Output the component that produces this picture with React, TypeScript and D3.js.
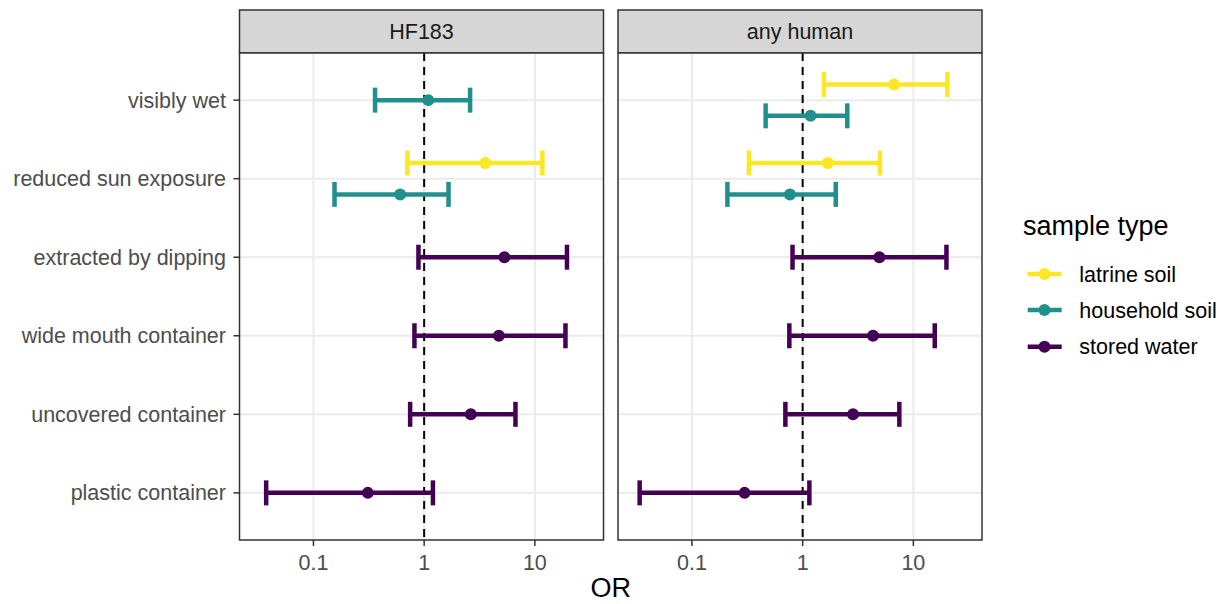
import React from "react";
import * as d3 from "d3";

// risk factors, top to bottom
const factors = [
  "visibly wet",
  "reduced sun exposure",
  "extracted by dipping",
  "wide mouth container",
  "uncovered container",
  "plastic container",
];

const sampleTypes = ["latrine soil", "household soil", "stored water"];
const typeColors = ["#FDE725", "#21908C", "#440154"];

const panels = ["HF183", "any human"];
const xTicks = [0.1, 1, 10];
const xTickLabels = ["0.1", "1", "10"];

// [factor, sample type, OR, lower, upper]
const hf183Estimates: [string, string, number, number, number][] = [
  ["visibly wet", "household soil", 1.09, 0.36, 2.6],
  ["reduced sun exposure", "latrine soil", 3.56, 0.706, 11.7],
  ["reduced sun exposure", "household soil", 0.607, 0.155, 1.66],
  ["extracted by dipping", "stored water", 5.31, 0.888, 19.5],
  ["wide mouth container", "stored water", 4.73, 0.817, 18.9],
  ["uncovered container", "stored water", 2.64, 0.747, 6.68],
  ["plastic container", "stored water", 0.31, 0.0374, 1.2],
];

const anyHumanEstimates: [string, string, number, number, number][] = [
  ["visibly wet", "latrine soil", 6.68, 1.557, 20.3],
  ["visibly wet", "household soil", 1.18, 0.463, 2.53],
  ["reduced sun exposure", "latrine soil", 1.69, 0.327, 4.99],
  ["reduced sun exposure", "household soil", 0.768, 0.209, 1.99],
  ["extracted by dipping", "stored water", 4.93, 0.81, 19.9],
  ["wide mouth container", "stored water", 4.32, 0.758, 15.6],
  ["uncovered container", "stored water", 2.85, 0.698, 7.47],
  ["plastic container", "stored water", 0.299, 0.0337, 1.15],
];

const panelData = [hf183Estimates, anyHumanEstimates];

const W = 1225;
const H = 604;
const panelLeft = 239.5;
const panelW = 364;
const panelGap = 14.5;
const stripTop = 10;
const plotTop = 53;
const plotBottom = 540;
const font = "'Liberation Sans', Arial, Helvetica, sans-serif";
const small = 21.5;
const big = 27;

const color = d3.scaleOrdinal<string, string>().domain(sampleTypes).range(typeColors);

const y = d3
  .scalePoint<string>()
  .domain(factors)
  .range([plotTop, plotBottom])
  .padding(0.6);

const Panel = ({ idx }: { idx: number }) => {
  const x0 = panelLeft + idx * (panelW + panelGap);
  const x = d3
    .scaleLog()
    .domain([Math.pow(10, -1.668), Math.pow(10, 1.62)])
    .range([x0, x0 + panelW]);
  const rows = panelData[idx];
  const step = y.step();
  const capH = 25;

  // dodge groups sharing a factor
  const offset = (r: [string, string, number, number, number]) => {
    const group = rows.filter((d) => d[0] === r[0]);
    const n = group.length;
    const i = group.indexOf(r);
    return (i - (n - 1) / 2) * 0.4 * step;
  };

  return (
    <g>
      {/* strip */}
      <rect
        x={x0}
        y={stripTop}
        width={panelW}
        height={plotTop - stripTop}
        fill="#D6D6D6"
        stroke="#333333"
        strokeWidth={1.5}
      />
      <text
        x={x0 + panelW / 2}
        y={(stripTop + plotTop) / 2}
        dy="0.35em"
        textAnchor="middle"
        fontSize={small}
        fill="#1A1A1A"
      >
        {panels[idx]}
      </text>

      <rect x={x0} y={plotTop} width={panelW} height={plotBottom - plotTop} fill="white" />
      {/* grid */}
      {xTicks.map((t) => (
        <line key={t} x1={x(t)} x2={x(t)} y1={plotTop} y2={plotBottom} stroke="#EBEBEB" strokeWidth={2} />
      ))}
      {factors.map((f) => (
        <line key={f} x1={x0} x2={x0 + panelW} y1={y(f)} y2={y(f)} stroke="#EBEBEB" strokeWidth={2} />
      ))}

      {/* reference line at OR = 1 */}
      <line
        x1={x(1)}
        x2={x(1)}
        y1={plotTop}
        y2={plotBottom}
        stroke="black"
        strokeWidth={2}
        strokeDasharray="8,6"
      />

      {rows.map((r, i) => {
        const cy = (y(r[0]) as number) + offset(r);
        const c = color(r[1]);
        return (
          <g key={i}>
            <line x1={x(r[3])} x2={x(r[4])} y1={cy} y2={cy} stroke={c} strokeWidth={4.5} />
            <line x1={x(r[3])} x2={x(r[3])} y1={cy - capH / 2} y2={cy + capH / 2} stroke={c} strokeWidth={4.5} />
            <line x1={x(r[4])} x2={x(r[4])} y1={cy - capH / 2} y2={cy + capH / 2} stroke={c} strokeWidth={4.5} />
            <circle cx={x(r[2])} cy={cy} r={6} fill={c} />
          </g>
        );
      })}

      <rect
        x={x0}
        y={plotTop}
        width={panelW}
        height={plotBottom - plotTop}
        fill="none"
        stroke="#333333"
        strokeWidth={1.5}
      />

      {/* x axis */}
      {xTicks.map((t, i) => (
        <g key={t}>
          <line x1={x(t)} x2={x(t)} y1={plotBottom} y2={plotBottom + 6} stroke="#333333" strokeWidth={1.5} />
          <text x={x(t)} y={570} textAnchor="middle" fontSize={small} fill="#4D4D4D">
            {xTickLabels[i]}
          </text>
        </g>
      ))}
    </g>
  );
};

export default function App() {
  const legendY = [274, 310, 346.7];
  return (
    <svg width={W} height={H} style={{ display: "block", position: "absolute", left: 0, top: 0 }} fontFamily={font}>
      <rect width={W} height={H} fill="white" />
      {panels.map((p, i) => (
        <Panel key={p} idx={i} />
      ))}

      {/* y axis */}
      {factors.map((f) => (
        <g key={f}>
          <line x1={panelLeft - 6} x2={panelLeft} y1={y(f)} y2={y(f)} stroke="#333333" strokeWidth={1.5} />
          <text x={226} y={y(f)} dy="0.35em" textAnchor="end" fontSize={small} fill="#4D4D4D">
            {f}
          </text>
        </g>
      ))}

      <text x={panelLeft + panelW + panelGap / 2} y={597} textAnchor="middle" fontSize={big} fill="black">
        OR
      </text>

      {/* legend */}
      <text x={1023} y={235} fontSize={big} fill="black">
        sample type
      </text>
      {sampleTypes.map((s, i) => (
        <g key={s}>
          <line x1={1027.7} x2={1061.7} y1={legendY[i]} y2={legendY[i]} stroke={color(s)} strokeWidth={4.5} />
          <circle cx={1044.5} cy={legendY[i]} r={6} fill={color(s)} />
          <text x={1079.3} y={legendY[i]} dy="0.35em" fontSize={small} fill="black">
            {s}
          </text>
        </g>
      ))}
    </svg>
  );
}
